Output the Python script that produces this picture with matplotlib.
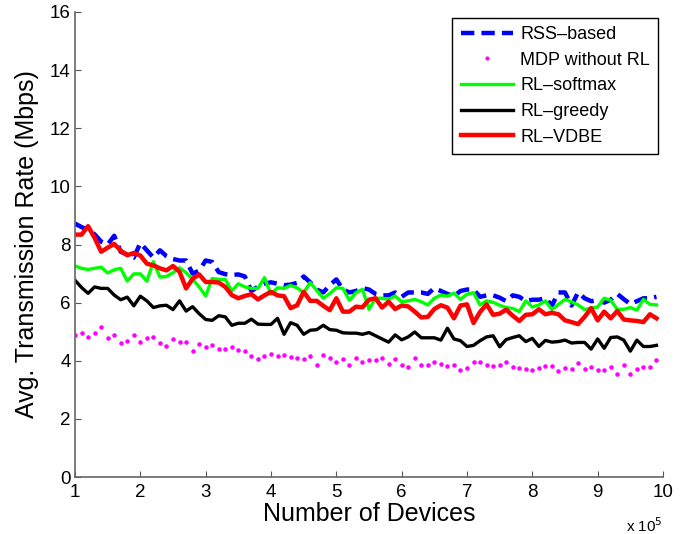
import numpy as np
import matplotlib
matplotlib.use("Agg")
import matplotlib.pyplot as plt
from matplotlib.lines import Line2D

# --------------------------- DATA ---------------------------

# number of devices, in units of 1e5
devices = np.round(np.linspace(1.0, 9.9, 90), 1)

rss_based = [
    8.72, 8.60, 8.50, 8.35, 8.10, 8.00, 8.30, 7.75, 7.65, 7.55,
    8.05, 7.80, 7.55, 7.80, 7.60, 7.50, 7.45, 7.45, 7.00, 7.10,
    7.45, 7.40, 7.05, 6.98, 6.95, 6.97, 6.90, 6.40, 6.55, 6.65,
    6.70, 6.65, 6.60, 6.62, 6.68, 6.90, 6.70, 6.45, 6.35, 6.60,
    6.80, 6.45, 6.35, 6.40, 6.50, 6.45, 6.30, 6.25, 6.25, 6.35,
    6.20, 6.35, 6.35, 6.35, 6.30, 6.50, 6.40, 6.30, 6.22, 6.40,
    6.45, 6.45, 6.20, 6.25, 6.25, 6.17, 6.05, 6.25, 6.20, 6.05,
    6.10, 6.10, 6.15, 5.90, 6.35, 6.35, 5.90, 6.35, 6.15, 6.05,
    6.08, 6.00, 6.10, 6.30, 6.12, 5.95, 6.05, 6.15, 6.15, 6.20,
]

mdp_no_rl = [
    4.90, 4.95, 4.83, 4.95, 5.15, 4.79, 4.88, 4.61, 4.69, 4.87,
    4.64, 4.77, 4.81, 4.62, 4.52, 4.74, 4.64, 4.63, 4.34, 4.56,
    4.46, 4.55, 4.39, 4.40, 4.46, 4.37, 4.33, 4.16, 4.07, 4.15,
    4.22, 4.15, 4.19, 4.14, 4.09, 4.05, 4.17, 3.87, 4.19, 4.10,
    3.94, 4.06, 3.87, 4.09, 3.94, 4.01, 4.03, 4.11, 3.89, 4.05,
    3.87, 3.79, 4.08, 3.86, 3.84, 3.95, 3.89, 3.82, 3.86, 3.68,
    3.76, 3.97, 3.97, 3.84, 3.82, 3.85, 3.94, 3.79, 3.75, 3.70,
    3.67, 3.75, 3.82, 3.83, 3.66, 3.74, 3.71, 3.91, 3.71, 3.78,
    3.68, 3.69, 3.79, 3.56, 3.85, 3.53, 3.73, 3.77, 3.77, 4.01,
]

rl_softmax = [
    7.26, 7.18, 7.14, 7.18, 7.22, 7.02, 7.13, 7.18, 6.74, 6.99,
    6.99, 6.74, 7.41, 6.88, 6.90, 7.03, 7.20, 7.03, 6.80, 6.54,
    6.23, 6.83, 6.80, 6.80, 6.40, 6.65, 6.54, 6.49, 6.49, 6.86,
    6.29, 6.51, 6.49, 6.59, 6.51, 6.34, 6.69, 6.42, 6.15, 6.31,
    6.51, 6.49, 6.08, 6.34, 6.46, 5.77, 6.15, 6.15, 6.11, 6.23,
    6.03, 6.06, 6.11, 6.03, 5.92, 6.15, 6.26, 6.22, 6.33, 6.11,
    6.29, 6.34, 5.92, 6.06, 6.01, 5.91, 5.83, 5.80, 5.69, 6.06,
    5.85, 5.92, 6.06, 5.76, 5.94, 6.11, 6.03, 5.92, 5.76, 5.81,
    5.85, 6.15, 6.08, 5.77, 5.77, 5.83, 5.74, 6.11, 5.94, 5.92,
]

rl_greedy = [
    6.77, 6.52, 6.32, 6.54, 6.49, 6.49, 6.26, 6.10, 6.19, 5.89,
    6.22, 6.06, 5.83, 5.89, 5.91, 5.76, 6.06, 5.71, 5.86, 5.62,
    5.42, 5.39, 5.55, 5.51, 5.22, 5.29, 5.29, 5.43, 5.26, 5.25,
    5.25, 5.46, 4.91, 5.31, 5.22, 4.91, 5.05, 5.07, 5.22, 5.07,
    5.05, 4.96, 4.95, 4.95, 4.91, 4.97, 4.86, 4.75, 4.64, 4.89,
    4.72, 4.82, 4.99, 4.79, 4.79, 4.79, 4.71, 5.12, 4.75, 4.69,
    4.49, 4.53, 4.69, 4.82, 4.86, 4.48, 4.73, 4.80, 4.86, 4.66,
    4.77, 4.49, 4.70, 4.64, 4.66, 4.71, 4.61, 4.63, 4.63, 4.40,
    4.75, 4.43, 4.80, 4.82, 4.71, 4.33, 4.71, 4.49, 4.49, 4.53,
]

rl_vdbe = [
    8.34, 8.34, 8.63, 8.23, 7.75, 7.89, 8.02, 7.79, 7.63, 7.71,
    7.62, 7.34, 7.28, 7.18, 7.11, 7.26, 7.06, 6.49, 6.82, 6.97,
    6.71, 6.71, 6.69, 6.54, 6.26, 6.15, 6.23, 6.29, 6.11, 6.25,
    6.37, 6.25, 6.22, 5.81, 5.91, 6.37, 6.06, 6.06, 5.89, 5.74,
    6.15, 5.69, 5.69, 5.86, 5.84, 6.10, 6.15, 5.83, 6.03, 5.78,
    5.90, 5.87, 5.69, 5.49, 5.51, 5.78, 5.91, 5.83, 5.46, 5.90,
    5.94, 5.30, 5.68, 5.94, 5.58, 5.62, 5.76, 5.55, 5.37, 5.58,
    5.60, 5.77, 5.60, 5.65, 5.60, 5.39, 5.33, 5.26, 5.51, 5.81,
    5.39, 5.69, 5.46, 5.71, 5.42, 5.39, 5.37, 5.33, 5.60, 5.46,
]

x_ticks = [1, 2, 3, 4, 5, 6, 7, 8, 9, 10]
y_ticks = [0, 2, 4, 6, 8, 10, 12, 14, 16]

# --------------------------- PLOT ---------------------------

plt.rcParams['font.family'] = ['Liberation Sans', 'DejaVu Sans']

fig = plt.figure(figsize=(6.95, 5.34), dpi=100)
ax = fig.add_axes([75 / 695, 1 - 477 / 534, 588 / 695, 465 / 534])

ax.plot(devices, rss_based, color='#0000FF', lw=3.2, ls=(0, (3, 1.6)),
        label='RSS\u2013based')
ax.plot(devices, mdp_no_rl, color='#FF00FF', ls='none', marker='.',
        markersize=4.5, label='MDP without RL')
ax.plot(devices, rl_softmax, color='#00FF00', lw=2.4, label='RL\u2013softmax')
ax.plot(devices, rl_greedy, color='black', lw=2.4, label='RL\u2013greedy')
ax.plot(devices, rl_vdbe, color='#FF0000', lw=3.2, label='RL\u2013VDBE')

ax.set_xlim(1, 10)
ax.set_ylim(0, 16)
ax.set_xticks(x_ticks)
ax.set_yticks(y_ticks)
ax.tick_params(direction='in', length=4, width=0.8, color='#555555',
               labelsize=13.5)
ax.tick_params(axis='y', pad=3)
ax.tick_params(axis='x', pad=5)

for side in ('top', 'right'):
    ax.spines[side].set_visible(False)
for side in ('left', 'bottom'):
    ax.spines[side].set_color('#666666')
    ax.spines[side].set_linewidth(1.2)

ax.set_xlabel('Number of Devices', fontsize=18, labelpad=1)
ax.set_ylabel('Avg. Transmission Rate (Mbps)', fontsize=18, labelpad=8)

# exponent note in matlab style, below the last tick label
ax.text(1.0, -0.085, r'x 10$^5$', transform=ax.transAxes, ha='right',
        va='top', fontsize=11)

handles = [
    Line2D([], [], color='#0000FF', lw=3.2, ls=(0, (3, 1.6))),
    Line2D([], [], color='#FF00FF', ls='none', marker='.', markersize=4),
    Line2D([], [], color='#00FF00', lw=2.4),
    Line2D([], [], color='black', lw=2.4),
    Line2D([], [], color='#FF0000', lw=3.2),
]
labels = ['RSS\u2013based', 'MDP without RL', 'RL\u2013softmax',
          'RL\u2013greedy', 'RL\u2013VDBE']
leg = ax.legend(handles, labels, loc='upper right',
                bbox_to_anchor=(658 / 695, 1 - 18 / 534),
                bbox_transform=fig.transFigure, borderaxespad=0,
                fontsize=13, handlelength=2.9, handletextpad=0.4,
                labelspacing=0.48, borderpad=0.45, fancybox=False,
                framealpha=1, edgecolor='black')
leg.get_frame().set_linewidth(1.0)

fig.savefig('out.png', dpi=100, facecolor='white')
